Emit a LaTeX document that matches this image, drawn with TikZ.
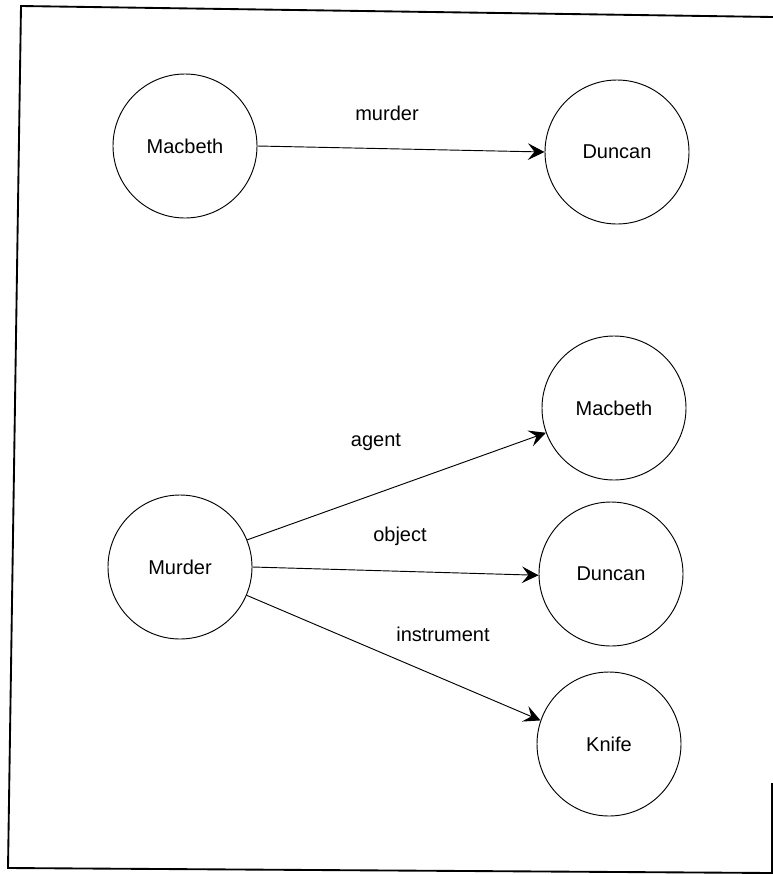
\documentclass[tikz,border=0pt]{standalone}
\usepackage{fontspec}
\setmainfont{Liberation Sans}
\usetikzlibrary{arrows.meta}
\begin{document}
\begin{tikzpicture}[x=0.75pt,y=-0.75pt,
  concept/.style={circle,draw,line width=0.7pt,minimum size=108pt,inner sep=0pt,font=\fontsize{15}{18}\selectfont},
  rel/.style={draw,line width=0.7pt,-{Stealth[length=12.5pt,width=12.5pt,inset=5pt]}},
  relname/.style={font=\fontsize{15}{18}\selectfont},
  frame/.style={line width=1.4pt}]
\useasboundingbox (0,0) rectangle (773,875);
% outer frame
\coordinate (fA) at (773,17);
\coordinate (fB) at (21,6);
\coordinate (fC) at (8,868);
\coordinate (fD) at (772,873);
\coordinate (fE) at (772,783);
\draw[frame] (fA) -- (fB) -- (fC) -- (fD) -- (fE);

% simple binary relation
\node[concept] (mac1) at (185,146) {Macbeth};
\node[concept] (dun1) at (617,152) {Duncan};
\draw[rel] (mac1.east) -- (dun1.west);
\node[relname] (lmurder) at (387,113) {murder};

% case frame for the murder event
\node[concept] (mur) at (180,567) {Murder};
\node[concept] (mac2) at (614,408) {Macbeth};
\node[concept] (dun2) at (611,574) {Duncan};
\node[concept] (knife) at (609,744) {Knife};
\draw[rel] (mur.22) -- (mac2.200);
\draw[rel] (mur.0) -- (dun2.181);
\draw[rel] (mur.-23) -- (knife.161);
\node[relname] (lagent) at (376,442) {agent};
\node[relname] (lobject) at (400,536) {object};
\node[relname] (linstr) at (443,634) {instrument};
\end{tikzpicture}
\end{document}
